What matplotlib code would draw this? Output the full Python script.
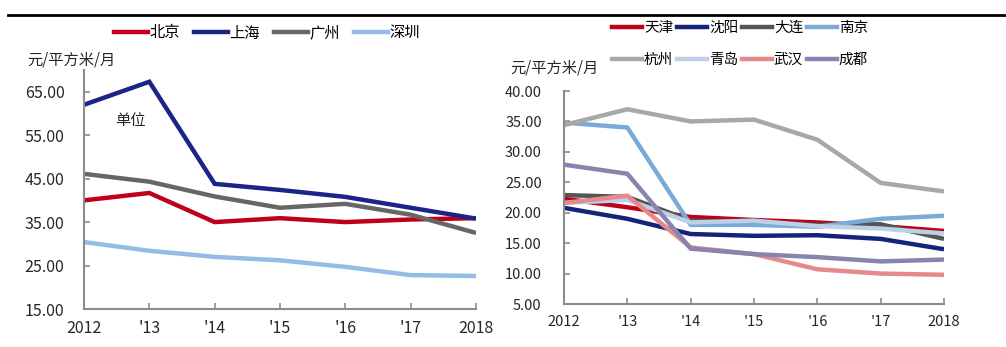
import matplotlib
matplotlib.use("Agg")
import matplotlib.pyplot as plt
from matplotlib.lines import Line2D

plt.rcParams['font.family'] = ['Liberation Sans Narrow', 'Noto Sans CJK SC', 'DejaVu Sans']

years = ['2012', "'13", "'14", "'15", "'16", "'17", '2018']

# 一线城市租金（元/平方米/月）
tier1_names = ['北京', '上海', '广州', '深圳']
beijing = [40.0, 41.7, 35.0, 35.9, 35.0, 35.6, 35.9]
shanghai = [62.0, 67.3, 43.8, 42.4, 40.8, 38.3, 35.8]
guangzhou = [46.1, 44.3, 40.9, 38.3, 39.2, 36.7, 32.5]
shenzhen = [30.4, 28.4, 27.0, 26.2, 24.7, 22.8, 22.6]
tier1_colors = ['#C00018', '#1B2588', '#666666', '#94BCE6']

# 二线城市租金（元/平方米/月）
tier2_names = ['天津', '沈阳', '大连', '南京', '杭州', '青岛', '武汉', '成都']
tianjin = [22.3, 20.9, 19.3, 18.8, 18.4, 17.8, 17.0]
shenyang = [20.8, 19.0, 16.5, 16.2, 16.3, 15.7, 14.0]
dalian = [22.9, 22.6, 18.7, 18.4, 18.0, 18.1, 15.7]
nanjing = [34.8, 34.0, 18.0, 18.0, 17.7, 19.0, 19.5]
hangzhou = [34.4, 37.0, 35.0, 35.3, 32.0, 24.9, 23.5]
qingdao = [21.6, 22.1, 18.4, 18.7, 17.8, 17.4, 16.6]
wuhan = [21.6, 22.8, 14.3, 13.2, 10.7, 10.0, 9.8]
chengdu = [27.9, 26.4, 14.1, 13.2, 12.7, 12.0, 12.3]
tier2_colors = ['#C00018', '#16237A', '#555555', '#7AAAD8',
                '#A8A8A8', '#BCD0E6', '#E58A8C', '#8785AE']

left_ticks = [15, 25, 35, 45, 55, 65]
right_ticks = [5, 10, 15, 20, 25, 30, 35, 40]

W, H = 1006, 347
fig = plt.figure(figsize=(W / 100, H / 100), dpi=100)

cjk = ['Noto Sans CJK SC', 'DejaVu Sans']
tick_color = '#262626'
axis_color = '#8C8C8C'


def style_axes(ax, yticks, size):
    for s in ['top', 'right']:
        ax.spines[s].set_visible(False)
    for s in ['left', 'bottom']:
        ax.spines[s].set_color(axis_color)
        ax.spines[s].set_linewidth(1.5)
    ax.set_xlim(0, len(years) - 1)
    ax.set_xticks(range(len(years)))
    ax.set_xticklabels(years)
    ax.set_yticks(yticks)
    ax.set_yticklabels([f'{v:.2f}' for v in yticks])
    ax.tick_params(axis='both', direction='in', length=4, width=1.2,
                   color=axis_color, labelcolor=tick_color, labelsize=size)
    ax.tick_params(axis='x', pad=8)
    ax.patch.set_alpha(0)


def legend_rows(handles, labels, ncol):
    # 按行排列图例（matplotlib 默认按列填充）
    nrow = (len(handles) + ncol - 1) // ncol
    order = [r * ncol + c for c in range(ncol) for r in range(nrow)
             if r * ncol + c < len(handles)]
    return [handles[i] for i in order], [labels[i] for i in order]


# 左图：一线城市
axL = fig.add_axes([84 / W, 1 - 309 / H, 392 / W, 239 / H])
for vals, c in zip([beijing, shanghai, guangzhou, shenzhen], tier1_colors):
    axL.plot(range(len(years)), vals, color=c, lw=3.2, solid_capstyle='butt',
             solid_joinstyle='miter')
axL.set_ylim(15, 70)
style_axes(axL, left_ticks, 11.5)
axL.tick_params(axis='y', pad=14)
axL.text(31 / 392, 1 - (121 - 70) / 239, '单位', transform=axL.transAxes,
         family=cjk, fontsize=11, color='#262626', va='center', ha='left')
fig.text(27 / W, 1 - 60 / H, '元/平方米/月', family=cjk, fontsize=11,
         color='#262626', va='center', ha='left')

handles1 = [Line2D([], [], color=c, lw=3.2) for c in tier1_colors]
fig.legend(handles1, tier1_names, loc='center', bbox_to_anchor=(267 / W, 1 - 33 / H),
           ncol=4, frameon=False, prop={'family': cjk, 'size': 11},
           handlelength=2.2, handletextpad=0.1, columnspacing=0.95)

# 右图：二线城市
axR = fig.add_axes([564 / W, 1 - 304 / H, 380 / W, 213 / H])
for vals, c in zip([tianjin, shenyang, dalian, nanjing, hangzhou, qingdao, wuhan, chengdu],
                   tier2_colors):
    axR.plot(range(len(years)), vals, color=c, lw=3.2, solid_capstyle='butt',
             solid_joinstyle='miter')
axR.set_ylim(5, 40)
style_axes(axR, right_ticks, 10.5)
axR.tick_params(axis='y', pad=16)
fig.text(510 / W, 1 - 68 / H, '元/平方米/月', family=cjk, fontsize=11,
         color='#262626', va='center', ha='left')

handles2 = [Line2D([], [], color=c, lw=3.2) for c in tier2_colors]
h2, l2 = legend_rows(handles2, tier2_names, 4)
fig.legend(h2, l2, loc='center', bbox_to_anchor=(740 / W, 1 - 44 / H),
           ncol=4, frameon=False, prop={'family': cjk, 'size': 10.5},
           handlelength=2.1, handletextpad=0.1, columnspacing=0.25,
           labelspacing=1.25)

# 顶部分隔线
fig.add_artist(Line2D([8 / W, 1.0], [1 - 15 / H, 1 - 15 / H], color='black', lw=2,
                      transform=fig.transFigure))

fig.savefig('out.png', dpi=100)
